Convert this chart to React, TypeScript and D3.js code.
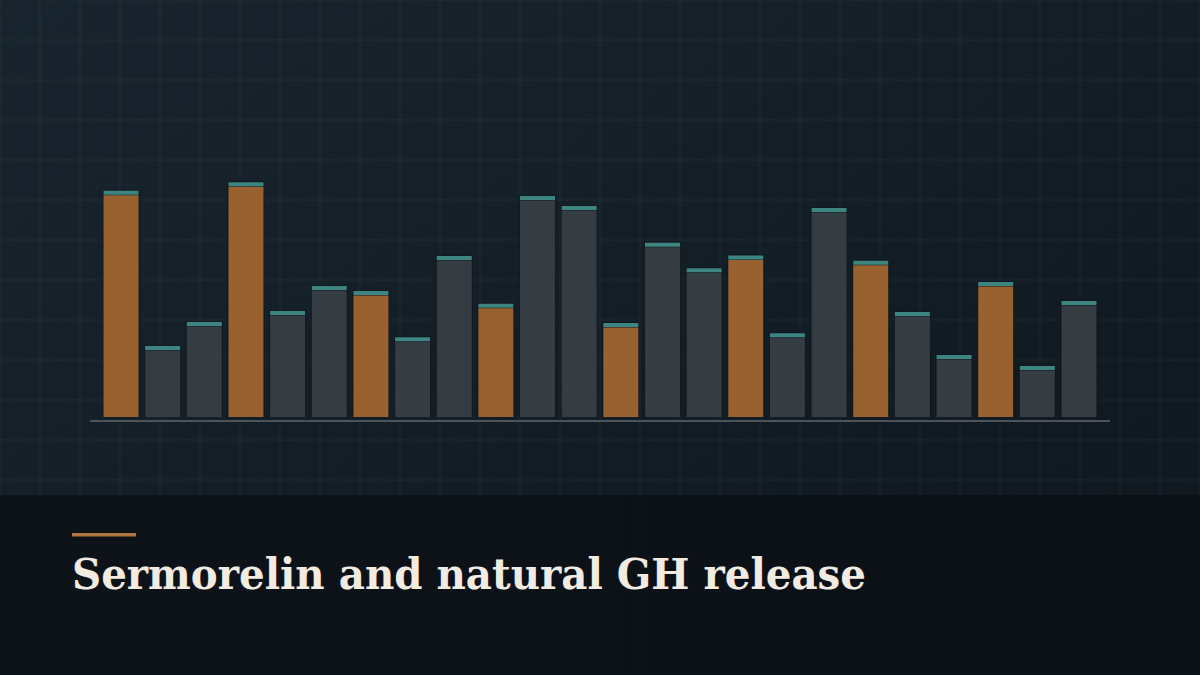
import React from "react";
import * as d3 from "d3";

const W = 1200;
const H = 675;

const categories = [
  "1", "2", "3", "4", "5", "6", "7", "8", "9", "10", "11", "12",
  "13", "14", "15", "16", "17", "18", "19", "20", "21", "22", "23", "24",
];
const values = [
  90.5, 28.4, 38, 93.9, 42.4, 52.4, 50.4, 31.9, 64.4, 45.3, 88.4, 84.4,
  37.6, 69.7, 59.5, 64.6, 33.5, 83.6, 62.5, 42, 24.8, 54, 20.4, 46.4,
];
const highlighted = [0, 3, 6, 9, 12, 15, 18, 21];
const title = "Sermorelin and natural GH release";

export default function App() {
  const x = d3
    .scaleBand<string>()
    .domain(categories)
    .range([90, 1110])
    .paddingInner(0.16)
    .paddingOuter(0.325);
  const y = d3.scaleLinear().domain([0, 100]).range([417, 167]);

  const gridX = d3.range(0, W + 1, 40);
  const gridY = d3.range(0, H, 40);

  return (
    <svg
      width={W}
      height={H}
      viewBox={`0 0 ${W} ${H}`}
      style={{ position: "absolute", left: 0, top: 0, display: "block" }}
    >
      <defs>
        <linearGradient id="bg" x1="0" y1="0" x2="1" y2="1">
          <stop offset="0%" stopColor="#18242e" />
          <stop offset="100%" stopColor="#0f171e" />
        </linearGradient>
        <linearGradient id="band" x1="0" y1="0" x2="1" y2="0">
          <stop offset="0%" stopColor="#0d1319" />
          <stop offset="100%" stopColor="#0b1016" />
        </linearGradient>
      </defs>
      <rect x={0} y={0} width={W} height={H} fill="url(#bg)" />
      <g>
        {gridX.map((gx) => (
          <line
            key={"gx" + gx}
            x1={gx}
            x2={gx}
            y1={0}
            y2={495}
            stroke="#ffffff"
            strokeOpacity={0.03}
            strokeWidth={1.5}
          />
        ))}
        {gridY
          .filter((gy) => gy < 495)
          .map((gy) => (
            <line
              key={"gy" + gy}
              x1={0}
              x2={W}
              y1={gy}
              y2={gy}
              stroke="#ffffff"
              strokeOpacity={0.03}
              strokeWidth={1.5}
            />
          ))}
      </g>
      <g>
        {values.map((v, i) => {
          const bx = x(categories[i]) as number;
          const bw = x.bandwidth();
          const top = y(v);
          const isHi = highlighted.includes(i);
          return (
            <g key={i}>
              <rect
                x={bx - 1}
                y={top - 1}
                width={bw + 2}
                height={417 - top + 1}
                fill="#0f161c"
                opacity={0.6}
              />
              <rect
                x={bx}
                y={top + 4.5}
                width={bw}
                height={417 - top - 4.5}
                fill={isHi ? "#98612f" : "#353c42"}
              />
              <rect x={bx} y={top} width={bw} height={4} fill="#3d8580" />
            </g>
          );
        })}
      </g>
      <line x1={90} x2={1110} y1={421} y2={421} stroke="#4b545b" strokeWidth={2} />
      <rect x={0} y={495} width={W} height={H - 495} fill="url(#band)" />
      <g>
        {gridX.map((gx) => (
          <line
            key={"bx" + gx}
            x1={gx}
            x2={gx}
            y1={495}
            y2={H}
            stroke="#ffffff"
            strokeOpacity={0.012}
            strokeWidth={1.5}
          />
        ))}
      </g>
      <rect x={72} y={533} width={64} height={3.5} fill="#b0763e" />
      <text
        x={72}
        y={589}
        fill="#f1ebe1"
        fontFamily="'DejaVu Serif', serif"
        fontWeight={700}
        fontSize={43}
        textLength={794}
        lengthAdjust="spacingAndGlyphs"
      >
        {title}
      </text>
    </svg>
  );
}
